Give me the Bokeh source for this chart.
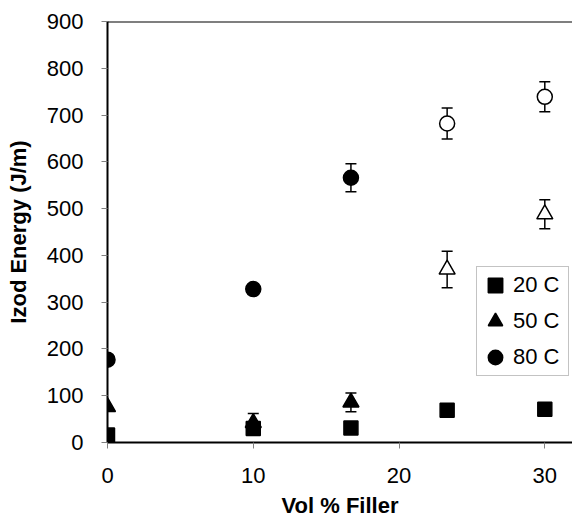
from bokeh.plotting import figure
from bokeh.models import (ColumnDataSource, Whisker, TeeHead, Span, Legend,
                          LegendItem, FixedTicker)
from bokeh.embed import file_html
from bokeh.resources import INLINE

# Izod impact energy vs. filler loading at three test temperatures
filler = [0, 10, 16.7, 23.3, 30]
energy_20 = [16, 30, 31, 69, 71]
energy_50 = [76, 42, 86, 370, 488]
energy_80 = [177, 328, 566, 682, 739]
err_20 = [0, 0, 0, 0, 0]
err_50 = [0, 20, 20, 39, 31]
err_80 = [0, 0, 30, 33, 32]
# specimens that did not break completely are shown hollow
hollow = [False, False, False, True, True]

x_ticks = [0, 10, 20, 30]
y_ticks = [0, 100, 200, 300, 400, 500, 600, 700, 800, 900]

FONT = "Liberation Sans"

p = figure(width=572, height=523, x_range=(0, 31.9), y_range=(0, 900),
           output_backend="svg", toolbar_location=None,
           min_border_left=107, min_border_right=0,
           min_border_top=21, min_border_bottom=81)
p.outline_line_color = None
p.xgrid.visible = False
p.ygrid.visible = False
p.background_fill_color = "white"
p.border_fill_color = "white"

for ax in (p.xaxis[0], p.yaxis[0]):
    ax.axis_line_color = "black"
    ax.axis_line_width = 2
    ax.major_tick_line_color = "#808080"
    ax.major_tick_line_width = 1
    ax.major_tick_in = 0
    ax.major_tick_out = 6
    ax.minor_tick_line_color = None
    ax.major_label_text_font = FONT
    ax.major_label_text_font_size = "22px"
    ax.major_label_text_color = "black"
    ax.axis_label_text_font = FONT
    ax.axis_label_text_font_style = "bold"
    ax.axis_label_text_font_size = "22px"
    ax.axis_label_text_color = "black"

p.xaxis.ticker = FixedTicker(ticks=x_ticks)
p.yaxis.ticker = FixedTicker(ticks=y_ticks)
p.xaxis.axis_label = "Vol % Filler"
p.yaxis.axis_label = "Izod Energy (J/m)"
p.yaxis.major_label_standoff = 18
p.xaxis.major_label_standoff = 19
p.yaxis.axis_label_standoff = 13
p.xaxis.axis_label_standoff = 7

# top border of the plot box
p.add_layout(Span(location=900, dimension="width", line_color="black",
                  line_width=2))

series = [
    ("20 C", energy_20, err_20, "square", 14, [False] * len(filler)),
    ("50 C", energy_50, err_50, "triangle", 16, hollow),
    ("80 C", energy_80, err_80, "circle", 15, hollow),
]

items = []
for label, vals, errs, marker, size, open_flags in series:
    src = ColumnDataSource(dict(
        x=filler, y=vals,
        lo=[v - e for v, e in zip(vals, errs)],
        hi=[v + e for v, e in zip(vals, errs)],
        fill=["white" if o else "black" for o in open_flags],
    ))
    r = p.scatter("x", "y", source=src, marker=marker, size=size,
                  fill_color="fill", line_color="black", line_width=1.5)
    items.append(LegendItem(label=label, renderers=[r]))
    p.add_layout(Whisker(source=src, base="x", lower="lo", upper="hi",
                         line_color="black", line_width=1.5,
                         upper_head=TeeHead(size=11, line_color="black",
                                            line_width=1.5),
                         lower_head=TeeHead(size=11, line_color="black",
                                            line_width=1.5)))

legend = Legend(items=items, location=(369, 66),
                glyph_width=36, glyph_height=36, label_width=55,
                label_height=36, spacing=0, padding=0, label_standoff=0,
                margin=0, border_line_color="#888888", border_line_width=1,
                background_fill_color="white", background_fill_alpha=1,
                label_text_font=FONT, label_text_font_size="22px",
                label_text_color="black")
p.add_layout(legend, "center")

open("out.html", "w").write(file_html(p, INLINE))
